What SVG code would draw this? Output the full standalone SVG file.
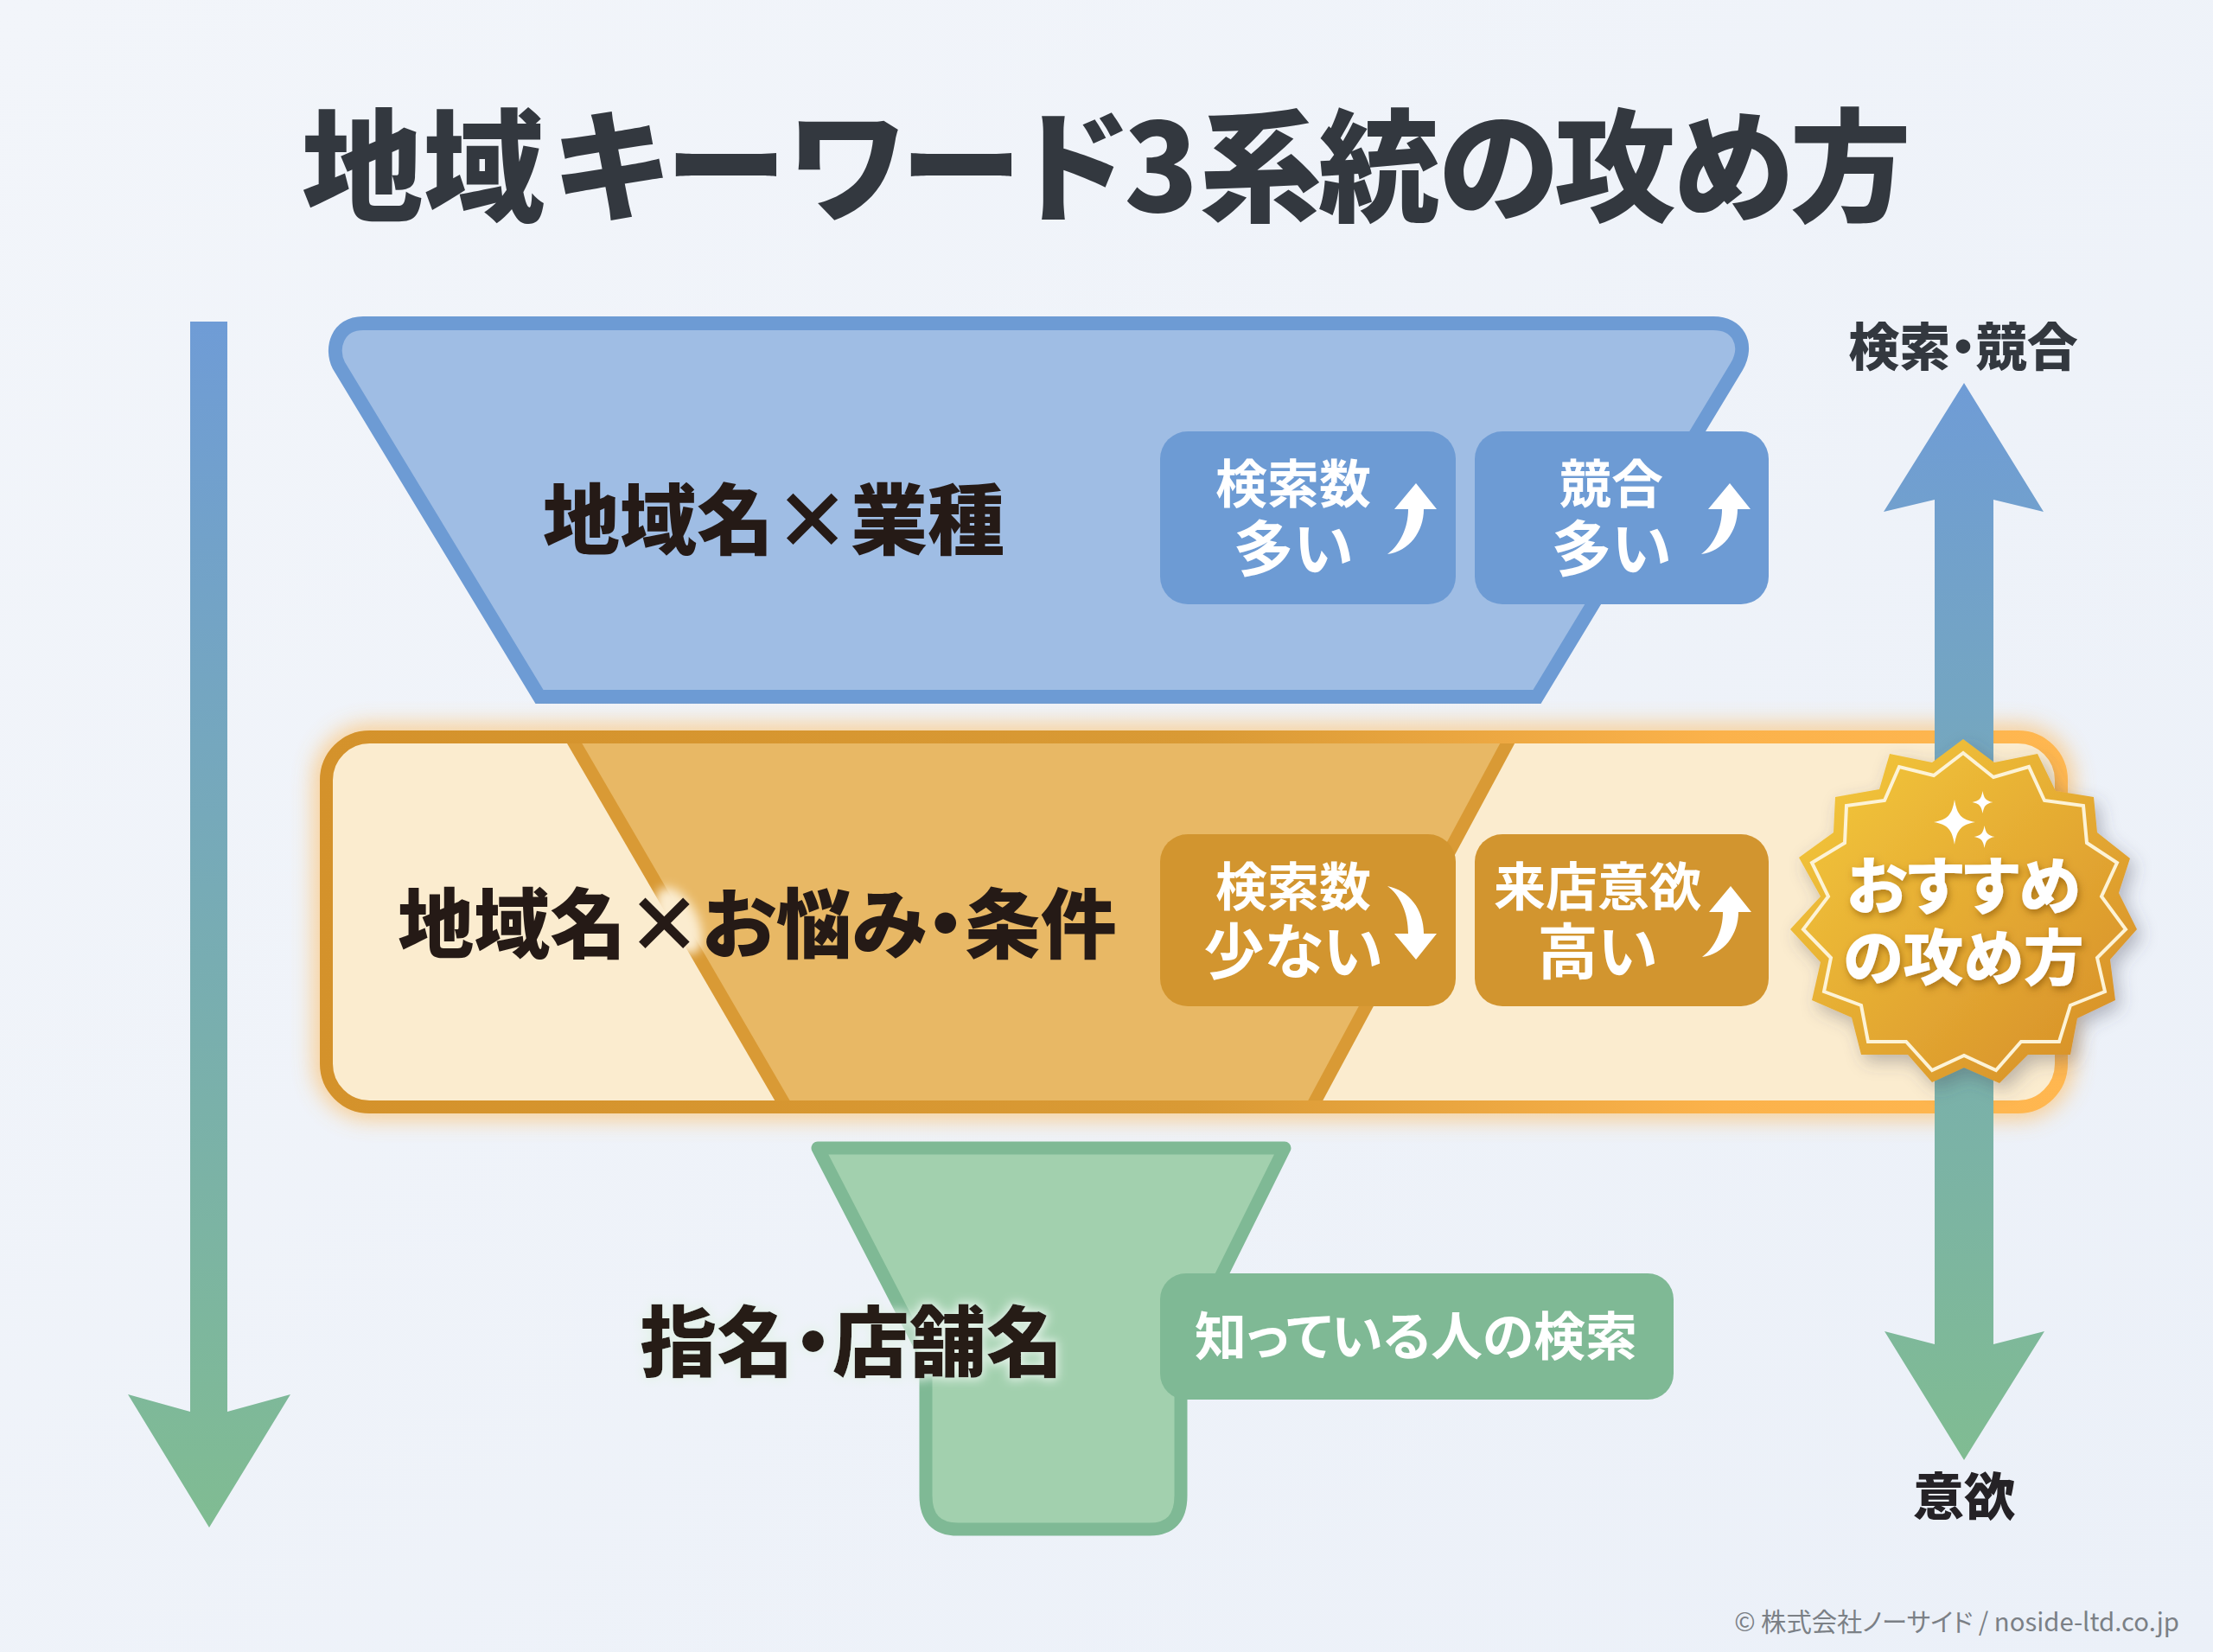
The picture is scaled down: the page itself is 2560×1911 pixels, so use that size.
<svg xmlns="http://www.w3.org/2000/svg" width="2560" height="1911" viewBox="0 0 2560 1911">
<defs>
<linearGradient id="bg" x1="0" y1="0" x2="1" y2="1"><stop offset="0" stop-color="#f2f5fa"/><stop offset="1" stop-color="#ebf0f8"/></linearGradient>
<linearGradient id="vL" gradientUnits="userSpaceOnUse" x1="0" y1="372" x2="0" y2="1767"><stop offset="0" stop-color="#6f9cd6"/><stop offset="1" stop-color="#80bc92"/></linearGradient>
<linearGradient id="vR" gradientUnits="userSpaceOnUse" x1="0" y1="444" x2="0" y2="1690"><stop offset="0" stop-color="#6f9cd6"/><stop offset="1" stop-color="#80bc92"/></linearGradient>
<linearGradient id="oStroke" gradientUnits="userSpaceOnUse" x1="370" y1="0" x2="2392" y2="0"><stop offset="0" stop-color="#d4922b"/><stop offset="0.5" stop-color="#d99a35"/><stop offset="0.8" stop-color="#fbb24b"/><stop offset="1" stop-color="#ffb750"/></linearGradient>
<linearGradient id="gold" x1="0.1" y1="0.1" x2="0.9" y2="0.9"><stop offset="0" stop-color="#f2c53b"/><stop offset="1" stop-color="#d8922a"/></linearGradient>
<filter id="blur" x="-5%" y="-15%" width="110%" height="130%"><feGaussianBlur stdDeviation="14"/></filter>
<filter id="soft" x="-100%" y="-100%" width="300%" height="300%"><feGaussianBlur stdDeviation="6"/></filter>
<filter id="shadow" x="-20%" y="-20%" width="140%" height="140%"><feDropShadow dx="6" dy="8" stdDeviation="10" flood-color="#4a4a5a" flood-opacity="0.35"/></filter>
<filter id="tshadow" x="-10%" y="-20%" width="120%" height="140%"><feDropShadow dx="2" dy="4" stdDeviation="4" flood-color="#7a4a05" flood-opacity="0.55"/></filter>
<filter id="glowG" x="-5%" y="-30%" width="110%" height="160%"><feMorphology in="SourceAlpha" operator="dilate" radius="2"/><feGaussianBlur stdDeviation="6" result="b"/><feFlood flood-color="#e4f2e9"/><feComposite in2="b" operator="in"/><feMerge><feMergeNode/><feMergeNode in="SourceGraphic"/></feMerge></filter>
<path id="up" d="M1613 589 L1638 559 L1662 589 L1647 589 C1647 615 1630 638 1605 641 C1620 630 1629 610 1629 589 Z" fill="#fff"/>
<path id="spark" d="M0 -26 C3 -8 8 -3 24 0 C8 3 3 8 0 26 C-3 8 -8 3 -24 0 C-8 -3 -3 -8 0 -26 Z" fill="#fff"/>
</defs>
<style>
text{font-family:"Noto Sans CJK JP","Noto Sans",sans-serif;font-weight:700;text-anchor:middle;font-feature-settings:"palt"}
.title{font-size:140.5px;font-weight:900;fill:#33383f}
.main{font-size:89px;font-weight:900;fill:#251a16}
.b1{font-size:60px;fill:#fff}
.b2{font-size:70px;fill:#fff}
.side{font-size:59px;font-weight:900;fill:#33383f}
.seal{font-size:72px;font-weight:900;fill:#fff}
.bb{fill:#6d9bd4}
.ob{fill:#d2952f}
.edge{stroke:#d99a35;stroke-width:15;fill:none}
</style>
<rect width="2560" height="1911" fill="url(#bg)"/>

<g id="funnel-blue">
<path d="M624 806 L1778 806 L2009 424 C2024 398 2010 374 1982 374 L420 374 C390 374 382 403 392 423 Z" fill="#9fbde4" stroke="#6d9bd4" stroke-width="16"/>
<text class="main" x="895" y="634">地域名×業種</text>
</g>
<g id="badge-blue-1">
<rect class="bb" x="1342" y="499" width="342" height="200" rx="32"/>
<text class="b1" x="1496" y="582">検索数</text>
<text class="b2" x="1496" y="661">多い</text>
<use href="#up"/>
</g>
<g id="badge-blue-2">
<rect class="bb" x="1706" y="499" width="340" height="200" rx="32"/>
<text class="b1" x="1864" y="582">競合</text>
<text class="b2" x="1864" y="661">多い</text>
<use href="#up" x="363"/>
</g>

<g id="tier-orange">
<rect x="377.5" y="852.5" width="2007" height="428" rx="50" fill="none" stroke="#ffb550" stroke-width="22" opacity="0.8" filter="url(#blur)"/>
<rect x="377.5" y="852.5" width="2007" height="428" rx="50" fill="#fbeccf"/>
<path d="M660 852 L1748 852 L1518 1280 L909 1280 Z" fill="#e8b865"/>
<path class="edge" d="M660 852 L909 1280"/>
<path class="edge" d="M1748 852 L1518 1280"/>
<ellipse cx="785" cy="1065" rx="22" ry="42" transform="rotate(-27 785 1065)" fill="#fbeccf" filter="url(#soft)"/>
<rect x="377.5" y="852.5" width="2007" height="428" rx="50" fill="none" stroke="url(#oStroke)" stroke-width="15"/>
<text class="main" x="876" y="1101" style="font-size:88px">地域名×お悩み・条件</text>
</g>
<g id="badge-orange-1">
<rect class="ob" x="1342" y="965" width="342" height="199" rx="32"/>
<text class="b1" x="1496" y="1048">検索数</text>
<text class="b2" x="1496" y="1127">少ない</text>
<path d="M1605 1025 C1630 1030 1647 1052 1647 1080 L1662 1080 L1638 1110 L1613 1080 L1629 1080 C1629 1056 1620 1036 1605 1025 Z" fill="#fff"/>
</g>
<g id="badge-orange-2">
<rect class="ob" x="1706" y="965" width="340" height="199" rx="32"/>
<text class="b1" x="1848" y="1048">来店意欲</text>
<text class="b2" x="1848" y="1127">高い</text>
<use href="#up" x="364" y="466"/>
</g>

<g id="funnel-green">
<path d="M946 1328 L1486 1328 L1366 1570 L1366 1730 Q1366 1769 1330 1769 L1108 1769 Q1071 1769 1071 1730 L1071 1570 Z" fill="#a2d0ae" stroke="#7fb995" stroke-width="15" stroke-linejoin="round"/>
<text class="main" x="985" y="1585" filter="url(#glowG)">指名・店舗名</text>
</g>
<g id="badge-green">
<rect x="1342" y="1473" width="594" height="146" rx="30" fill="#7fb995"/>
<text x="1638" y="1568" style="font-size:60px;fill:#fff">知っている人の検索</text>
</g>

<g id="connectors">
<path id="arrow-left" d="M220 372 H263 V1633 L336 1613 L242 1767 L148 1613 L220 1633 Z" fill="url(#vL)"/>
<path id="arrow-right" d="M2272 443 L2364 592 L2306 578 V1555 L2365 1540 L2272 1689 L2180 1540 L2238 1555 V578 L2179 592 Z" fill="url(#vR)"/>
</g>

<g id="seal">
<g filter="url(#shadow)">
<polygon fill="url(#gold)" points="2271,855 2307,882 2357,872 2378,915 2422,922 2426,963 2464,993 2451,1033 2472,1075 2441,1110 2447,1157 2403,1178 2395,1220 2346,1220 2313,1253 2272,1235 2235,1252 2207,1220 2153,1220 2142,1177 2096,1157 2106,1113 2071,1075 2106,1037 2081,992 2121,963 2123,922 2174,913 2186,872 2235,882"/>
</g>
<polygon fill="none" stroke="#fdf3d6" stroke-width="4" points="2271,871 2306,899 2347,887 2365,926 2410,932 2414,975 2449,998 2431,1037 2459,1075 2426,1108 2435,1147 2395,1163 2382,1205 2338,1205 2309,1238 2272,1221 2235,1238 2205,1205 2161,1205 2153,1163 2110,1147 2118,1108 2086,1075 2115,1037 2096,998 2134,975 2136,932 2180,926 2197,887 2237,897"/>
<use href="#spark" transform="translate(2261,951)"/>
<use href="#spark" transform="translate(2293.5,928) scale(0.5)"/>
<use href="#spark" transform="translate(2295.6,968) scale(0.5)"/>
<text class="seal" x="2271.5" y="1051" filter="url(#tshadow)">おすすめ</text>
<text class="seal" x="2271.5" y="1134" filter="url(#tshadow)" style="font-size:70px">の攻め方</text>
</g>

<text class="title" x="1280" y="245" dx="0 0 10 3 5 0 0 -3 2 -4 -1 -5 -3 -4">地域キーワード3系統の攻め方</text>
<text class="side" x="2271" y="423">検索・競合</text>
<text class="side" x="2272" y="1753" style="fill:#252226">意欲</text>
<text x="2263.5" y="1887" style="font-size:29.3px;font-weight:400;fill:#7b8086">© 株式会社ノーサイド / noside-ltd.co.jp</text>
</svg>
